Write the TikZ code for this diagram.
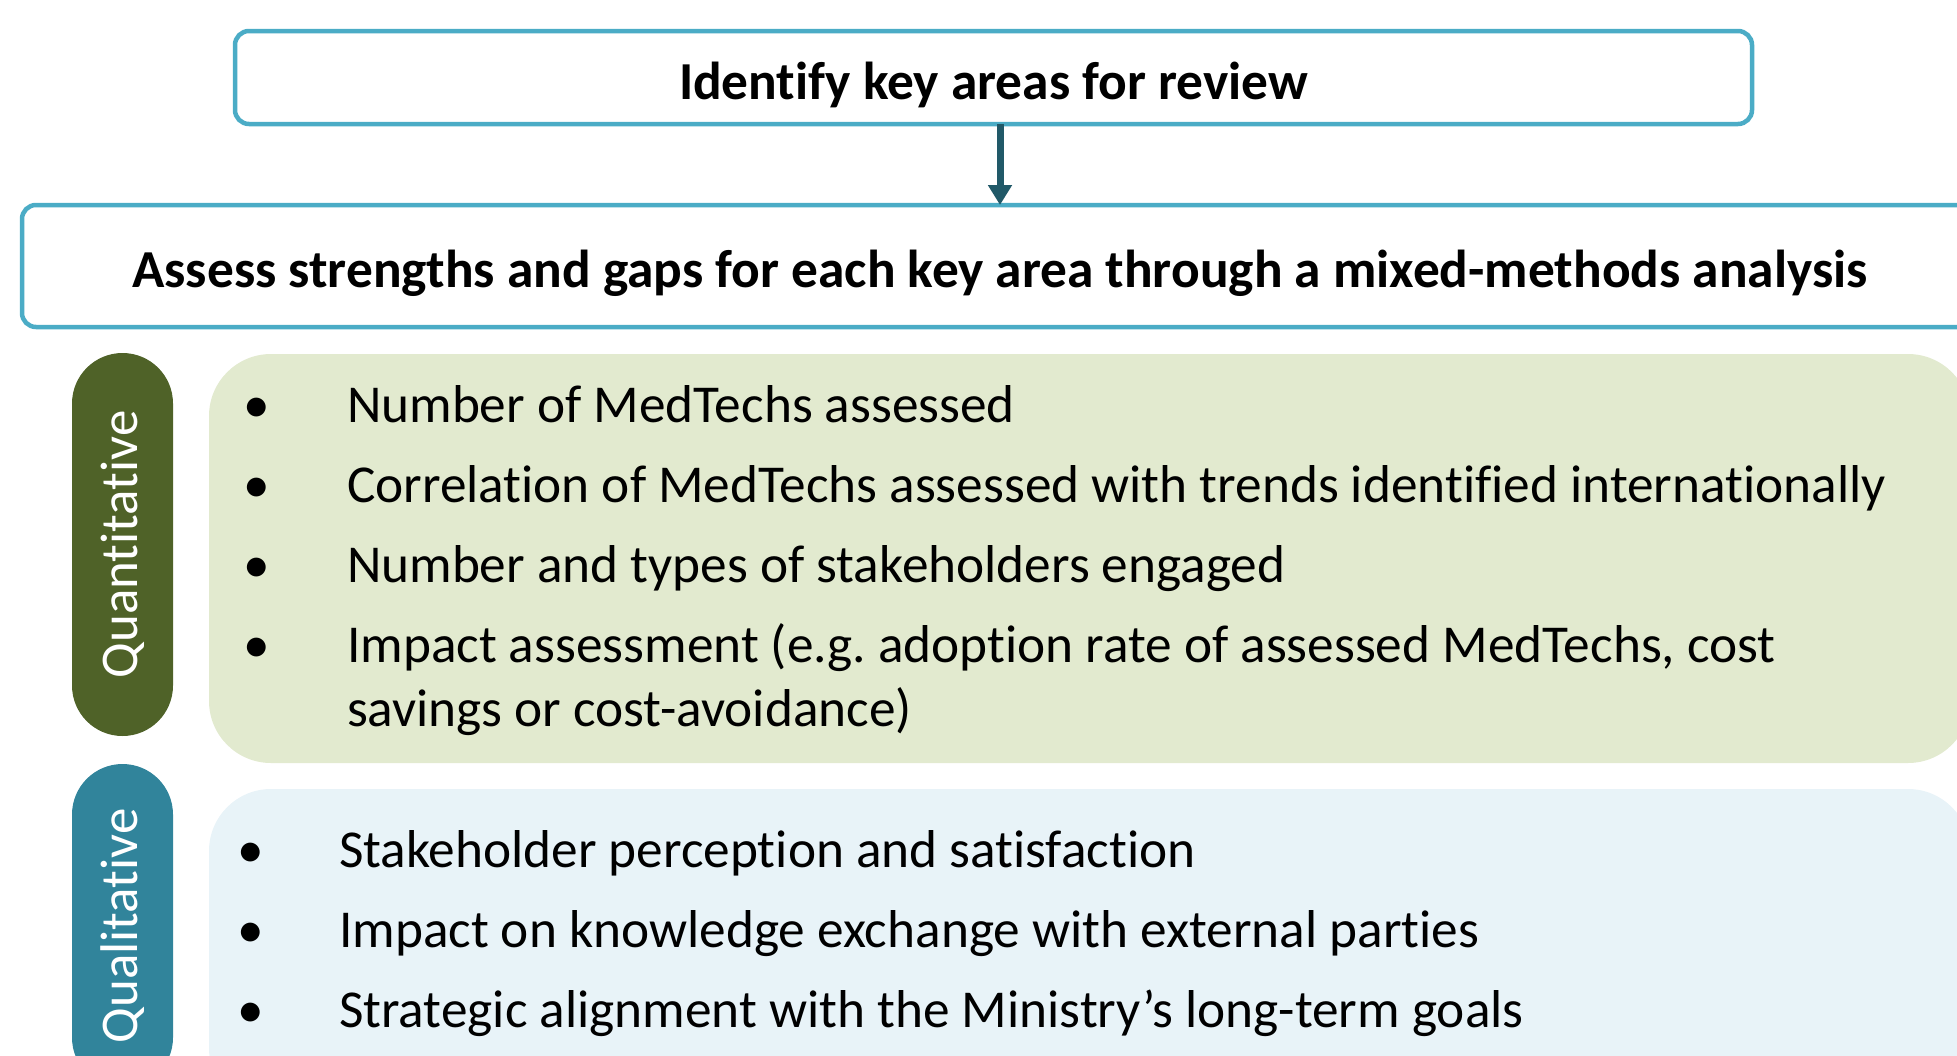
\documentclass[tikz,border=0pt]{standalone}
\usepackage{fontspec}
\setmainfont{Carlito}[Ligatures=NoCommon]
\usetikzlibrary{arrows.meta}
\definecolor{bordercol}{HTML}{4BACC6}
\definecolor{arrowcol}{HTML}{215968}
\definecolor{quantcol}{HTML}{4F6228}
\definecolor{qualcol}{HTML}{31849B}
\definecolor{greenfill}{HTML}{E2EACF}
\definecolor{bluefill}{HTML}{E8F3F8}
\frenchspacing
\begin{document}
\begin{tikzpicture}[x=1pt,y=-1pt,
  every node/.style={inner sep=0pt, outer sep=0pt},
  titlebox/.style={draw=bordercol, line width=4.5pt, rounded corners=14pt, fill=white,
    font=\fontsize{53.4}{62}\selectfont\bfseries, align=center, text height=43pt, text depth=0pt},
  pill/.style={rounded corners=50.5pt, text=white, font=\fontsize{53}{62}\selectfont, rotate=90,
    minimum height=101pt},
  panel/.style={rounded corners=62pt, minimum width=1761pt},
  bul/.style={anchor=base, font=\fontsize{53.3}{64}\selectfont},
  itemtext/.style={anchor=base west, font=\fontsize{53.3}{64}\selectfont},
  flowarrow/.style={line width=7pt, draw=arrowcol, -{Triangle[width=23pt,length=20pt]}},
]
\useasboundingbox (0,0) rectangle (1957,1055);

% top boxes
\node[titlebox, minimum width=1517pt, minimum height=93pt] (top) at (993.5,77.5) {Identify key areas for review};
\node[titlebox, minimum width=1956pt, minimum height=122pt] (assess) at (1000,266) {Assess strengths and gaps for each key area through a mixed-methods analysis};
\draw[flowarrow] (assess.north |- top.south) -- (assess.north);

% panels
\node[panel, fill=greenfill, minimum height=409pt] (quantpanel) at (1089.5,558.5) {};
\node[panel, fill=bluefill, minimum height=321pt] (qualpanel) at (1089.5,949.5) {};

% pills
\node[pill, fill=quantcol, minimum width=383pt] (quantpill) at (122.5,544.5) {Quantitative};
\node[pill, fill=qualcol, minimum width=324pt] (qualpill) at (122.5,926) {Qualitative};

% quantitative items
\node[bul] (qb1) at (257,422) {•};
\node[itemtext] (qi1) at (347,422) {Number of MedTechs assessed};
\node[bul] (qb2) at (257,502) {•};
\node[itemtext] (qi2) at (347,502) {Correlation of MedTechs assessed with trends identified internationally};
\node[bul] (qb3) at (257,582) {•};
\node[itemtext] (qi3) at (347,582) {Number and types of stakeholders engaged};
\node[bul] (qb4) at (257,662) {•};
\node[itemtext] (qi4) at (347,662) {\parbox[t]{1600pt}{\raggedright Impact assessment (e.g. adoption rate of assessed MedTechs, cost\\savings or cost-avoidance)}};

% qualitative items
\node[bul] (lb1) at (251,867) {•};
\node[itemtext] (li1) at (339,867) {Stakeholder perception and satisfaction};
\node[bul] (lb2) at (251,947) {•};
\node[itemtext] (li2) at (339,947) {Impact on knowledge exchange with external parties};
\node[bul] (lb3) at (251,1027) {•};
\node[itemtext] (li3) at (339,1027) {Strategic alignment with the Ministry’s long-term goals};
\end{tikzpicture}
\end{document}
